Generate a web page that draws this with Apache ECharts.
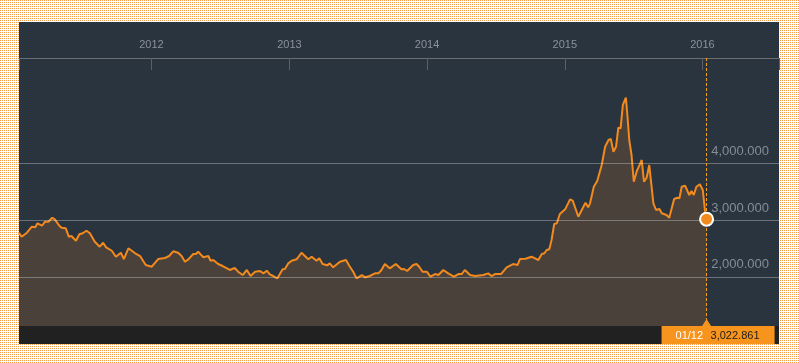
<!DOCTYPE html>
<html><head><meta charset="utf-8">
<script src="https://cdn.jsdelivr.net/npm/echarts@6/dist/echarts.min.js"></script>
<style>
html,body{margin:0;padding:0;width:799px;height:363px;overflow:hidden;background:#fff;}
#panel{position:absolute;left:19px;top:22px;width:760px;height:322px;background:#2a343f;}
#strip{position:absolute;left:19px;top:326px;width:760px;height:18px;background:#212121;}
#chart{position:absolute;left:0;top:0;width:799px;height:363px;}
</style></head>
<body>
<div id="panel"></div><div id="strip"></div><div id="chart"></div>
<script>
const dates = [
'2011-01-15','2011-01-22','2011-02-05','2011-02-18','2011-02-27','2011-03-05','2011-03-17','2011-03-25','2011-04-03','2011-04-13','2011-04-20','2011-05-02','2011-05-08','2011-05-19','2011-05-27','2011-06-03','2011-06-15','2011-06-24','2011-07-03','2011-07-13','2011-07-22','2011-08-04','2011-08-17','2011-08-26','2011-09-03','2011-09-18','2011-09-29','2011-10-12','2011-10-20','2011-11-01','2011-11-05','2011-11-19','2011-12-02','2011-12-17',
'2012-01-02','2012-01-19','2012-02-06','2012-02-17','2012-02-28','2012-03-12','2012-03-21','2012-03-30','2012-04-08','2012-04-21','2012-04-28','2012-05-04','2012-05-18','2012-05-31','2012-06-06','2012-06-13','2012-06-26','2012-07-08','2012-07-27','2012-08-09','2012-08-18','2012-08-30','2012-09-10','2012-09-20','2012-10-02','2012-10-15','2012-10-24','2012-11-02','2012-11-10','2012-11-19','2012-11-30','2012-12-14','2012-12-20','2012-12-29',
'2013-01-07','2013-01-11','2013-01-20','2013-01-24','2013-02-02','2013-02-07','2013-02-20','2013-03-01','2013-03-14','2013-03-21','2013-03-30','2013-04-11','2013-04-18','2013-04-27','2013-05-15','2013-05-31','2013-06-09','2013-06-19','2013-06-28','2013-07-12','2013-07-21','2013-08-02','2013-08-16','2013-08-25','2013-09-02','2013-09-11','2013-09-24','2013-10-10','2013-10-25','2013-11-01','2013-11-09','2013-11-25','2013-12-04','2013-12-11','2013-12-20','2013-12-31',
'2014-01-10','2014-01-22','2014-01-31','2014-02-13','2014-02-26','2014-03-13','2014-03-25','2014-04-03','2014-04-11','2014-04-25','2014-05-08','2014-05-30','2014-06-12','2014-06-21','2014-06-30','2014-07-16','2014-07-31','2014-08-17','2014-08-29','2014-09-04','2014-09-19','2014-10-05','2014-10-14','2014-10-23','2014-11-01','2014-11-08','2014-11-14','2014-11-21','2014-11-27','2014-12-04','2014-12-11','2014-12-19',
'2015-01-02','2015-01-15','2015-01-22','2015-02-06','2015-02-16','2015-02-25','2015-03-04','2015-03-09','2015-03-19','2015-03-28','2015-04-09','2015-04-18','2015-04-27','2015-05-03','2015-05-10','2015-05-17','2015-05-23','2015-05-29','2015-06-04','2015-06-12','2015-06-16','2015-06-21','2015-06-27','2015-07-03','2015-07-11','2015-07-19','2015-07-24','2015-07-30','2015-08-06','2015-08-13','2015-08-24','2015-08-31','2015-09-09','2015-09-15','2015-09-28','2015-10-05','2015-10-18','2015-10-26','2015-11-01','2015-11-07','2015-11-16','2015-11-20','2015-11-27','2015-12-03','2015-12-09','2015-12-16','2015-12-25',
'2016-01-02','2016-01-08','2016-01-12'];
const values = [
2785,2715,2785,2891,2880,2951,2908,2979,2979,3049,3021,2908,2873,2863,2715,2727,2644,2757,2775,2820,2775,2627,2539,2609,2528,2468,2363,2433,2322,2511,2528,2423,2375,2217,
2187,2322,2340,2375,2458,2433,2375,2275,2317,2410,2410,2451,2352,2375,2292,2305,2234,2199,2129,2164,2099,2040,2129,2023,2099,2111,2070,2116,2053,2023,1982,2141,2146,2246,
2292,2257,2317,2305,2433,2433,2317,2363,2292,2335,2234,2211,2246,2176,2275,2305,2199,2099,1982,2040,2000,2023,2070,2070,2129,2234,2158,2234,2141,2146,2111,2217,2234,2187,2099,2099,
2011,2058,2040,2129,2070,2011,2058,2058,2129,2040,2023,2040,2070,2023,2058,2058,2176,2234,2217,2322,2327,2363,2335,2305,2410,2423,2481,2493,2657,2938,2951,3114,
3197,3373,3349,3067,3197,3313,3232,3303,3595,3695,3977,4299,4417,4435,4211,4299,4634,4623,5034,5162,4857,4417,4153,3683,3872,3989,4065,3683,3754,3977,3303,3185,3202,3127,3097,3049,3379,3401,3391,3595,3613,3637,3449,3519,3449,3595,3637,
3537,3155,3022.861];
const yearTicks = ['2012','2013','2014','2015','2016'];
const gridValues = [2000,3000,4000];
const axisRange = ['2011-01-15','2016-07-22'];
const yRange = [1143,5861];
const lastLabel = '01/12';

// dotted page background
(function(){
  const c=document.createElement('canvas');c.width=2;c.height=2;
  const g=c.getContext('2d');g.fillStyle='#fff';g.fillRect(0,0,2,2);
  g.fillStyle='#f29a48';g.fillRect(0,0,1,1);
  document.body.style.backgroundImage='url('+c.toDataURL()+')';
  document.body.style.imageRendering='pixelated';
})();

function ts(s){const p=s.split('-').map(Number);return Date.UTC(p[0],p[1]-1,p[2]);}
function fmt(v){const s=v.toFixed(3).split('.');return s[0].replace(/\B(?=(\d{3})+(?!\d))/g,',')+'.'+s[1];}

const FONT='"Liberation Sans", Arial, sans-serif';
const xMin=ts(axisRange[0]), xMax=ts(axisRange[1]);
const yearVals=yearTicks.map(y=>ts(y+'-01-01'));
const data=dates.map((d,i)=>[ts(d),values[i]]);
const last=data[data.length-1];

const chart=echarts.init(document.getElementById('chart'),null,{renderer:'canvas'});
chart.setOption({
  backgroundColor:'transparent',
  animation:false,
  grid:{left:19,right:20,top:58,bottom:37},
  xAxis:{type:'value',position:'top',min:xMin,max:xMax,scale:true,
    axisLine:{lineStyle:{color:'#6b6e72',width:1}},
    axisTick:{inside:true,length:12,lineStyle:{color:'#5c6066',width:1},customValues:[xMin].concat(yearVals,[xMax])},
    axisLabel:{customValues:yearVals,formatter:v=>String(new Date(v).getUTCFullYear()),color:'#8a939c',fontSize:11,fontFamily:FONT,margin:8},
    splitLine:{show:false}},
  yAxis:{type:'value',min:yRange[0],max:yRange[1],show:false},
  series:[{type:'line',data:data,showSymbol:false,symbol:'none',
    lineStyle:{color:'#f28a1e',width:2},
    areaStyle:{color:'#4a413b',opacity:1},
    markLine:{silent:true,symbol:['none','none'],animation:false,
      data:gridValues.map(v=>({yAxis:v,lineStyle:{color:'rgba(255,255,255,0.3)',width:1,type:'solid'},
        label:{show:true,position:'insideEndTop',formatter:()=>fmt(v),color:'#848d96',fontSize:13,fontFamily:FONT,distance:[10,6]}}))
        .concat([{xAxis:last[0],lineStyle:{color:'#f6a11c',width:1,type:[3,2]},label:{show:false}}])},
    markPoint:{silent:true,animation:false,data:[{coord:last}],symbol:'circle',symbolSize:13,
      itemStyle:{color:'#f28a1e',borderColor:'#fff',borderWidth:2},label:{show:false}}
  }]
});

const px=chart.convertToPixel({seriesIndex:0},last)[0];
const gy=chart.convertToPixel({yAxisIndex:0},yRange[0]);
const boxC='#f7941d';
chart.setOption({graphic:[
  {type:'rect',shape:{x:px-45,y:gy,width:113,height:18},style:{fill:boxC},z:10},
  {type:'polygon',shape:{points:[[px-4.5,gy],[px,gy-7],[px+4.5,gy]]},style:{fill:boxC},z:10},
  {type:'text',x:px-31,y:gy+10,style:{text:lastLabel,fill:'#ffffff',font:'11px '+FONT,verticalAlign:'middle'},z:11},
  {type:'text',x:px+4,y:gy+10,style:{text:fmt(last[1]),fill:'#1c1c1c',font:'11px '+FONT,verticalAlign:'middle'},z:11}
]});
</script>
</body></html>
